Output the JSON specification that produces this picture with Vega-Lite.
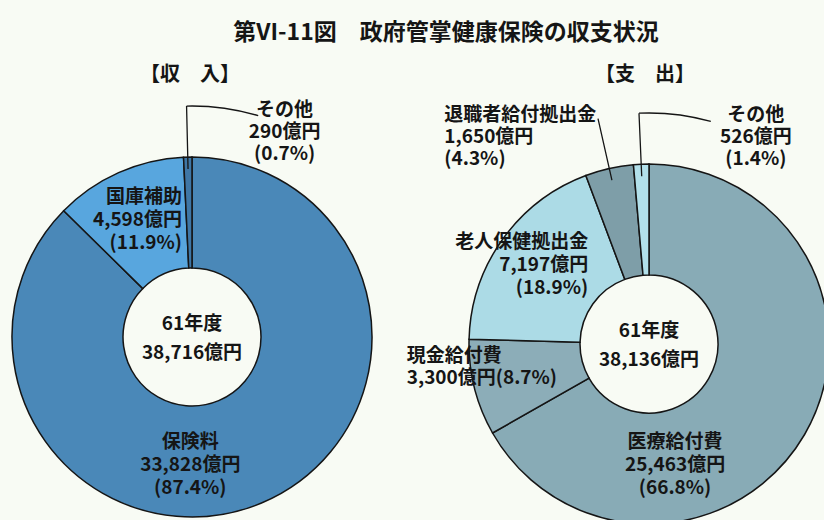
{
  "$schema": "https://vega.github.io/schema/vega-lite/v6.json",
  "width": 824,
  "height": 520,
  "autosize": "none",
  "padding": 0,
  "background": "#f8fbf4",
  "title": {"text": "第VI-11図　政府管掌健康保険の収支状況", "font": "Noto Sans CJK JP", "fontSize": 23, "fontWeight": "bold", "color": "#151515", "anchor": "middle", "dx": 34, "offset": -45},
  "config": {"view": {"stroke": null}, "text": {"font": "Noto Sans CJK JP", "color": "#151515"}},
  "data": {"values": [
    {"k": 1, "side": "収入", "item": "保険料", "value": 33828, "pct": "87.4"},
    {"k": 2, "side": "収入", "item": "国庫補助", "value": 4598, "pct": "11.9"},
    {"k": 3, "side": "収入", "item": "その他", "value": 290, "pct": "0.7"},
    {"k": 4, "side": "支出", "item": "医療給付費", "value": 25463, "pct": "66.8"},
    {"k": 5, "side": "支出", "item": "現金給付費", "value": 3300, "pct": "8.7"},
    {"k": 6, "side": "支出", "item": "老人保健拠出金", "value": 7197, "pct": "18.9"},
    {"k": 7, "side": "支出", "item": "退職者給付拠出金", "value": 1650, "pct": "4.3"},
    {"k": 8, "side": "支出", "item": "その他", "value": 526, "pct": "1.4"}
  ]},
  "transform": [
    {"stack": "value", "groupby": ["side"], "sort": [{"field": "k"}], "offset": "normalize", "as": ["t0", "t1"]},
    {"joinaggregate": [{"op": "sum", "field": "value", "as": "total"}], "groupby": ["side"]},
    {"calculate": "(datum.t0 + datum.t1) / 2", "as": "tm"},
    {"calculate": "datum.side + datum.item", "as": "key"},
    {"calculate": "[datum.item, format(datum.value, ',') + '億円', '(' + datum.pct + '%)']", "as": "lines"}
  ],
  "encoding": {
    "x": {"field": "side", "type": "nominal", "scale": {"domain": ["収入", "支出"], "range": [192, 649], "padding": 0}, "axis": null},
    "y": {"field": "side", "type": "nominal", "scale": {"domain": ["収入", "支出"], "range": [337, 344], "padding": 0}, "axis": null}
  },
  "layer": [
    {
      "mark": {"type": "arc", "outerRadius": 180, "innerRadius": 69, "stroke": "#151515", "strokeWidth": 1.5},
      "encoding": {
        "theta": {"field": "t0", "type": "quantitative", "scale": {"domain": [0, 1]}},
        "theta2": {"field": "t1"},
        "color": {"field": "key", "type": "nominal", "legend": null, "scale": {
          "domain": ["収入保険料", "収入国庫補助", "収入その他", "支出医療給付費", "支出現金給付費", "支出老人保健拠出金", "支出退職者給付拠出金", "支出その他"],
          "range": ["#4a88b8", "#58a6de", "#3f77a6", "#88abb6", "#8cadb8", "#acdbe6", "#7e9ea8", "#b2e0ea"]}}
      }
    },
    {
      "transform": [{"filter": "datum.k == 3 || datum.k == 7 || datum.k == 8"}],
      "mark": {"type": "arc", "outerRadius": 231, "innerRadius": 168, "stroke": "#151515", "strokeWidth": 1.3, "fillOpacity": 0},
      "encoding": {"theta": {"field": "tm", "type": "quantitative"}, "theta2": {"field": "tm"}}
    },
    {
      "transform": [{"filter": "datum.item == 'その他'"}, {"calculate": "datum.tm + 0.05", "as": "te"}],
      "mark": {"type": "arc", "outerRadius": 231, "innerRadius": 231, "stroke": "#151515", "strokeWidth": 1.3, "fillOpacity": 0},
      "encoding": {"theta": {"field": "tm", "type": "quantitative"}, "theta2": {"field": "te"}}
    },
    {
      "transform": [{"filter": "datum.k == 1 || datum.k == 4"}, {"calculate": "['61年度', format(datum.total, ',') + '億円']", "as": "center"}],
      "mark": {"type": "text", "fontSize": 19, "fontWeight": "bold", "lineHeight": 29, "baseline": "middle", "align": "center", "dy": -13},
      "encoding": {"text": {"field": "center"}}
    },
    {
      "transform": [{"filter": "datum.k == 1"}],
      "mark": {"type": "text", "text": "【収　入】", "fontSize": 20, "fontWeight": "bold", "baseline": "middle", "align": "center", "dx": -2, "dy": -262}
    },
    {
      "transform": [{"filter": "datum.k == 4"}],
      "mark": {"type": "text", "text": "【支　出】", "fontSize": 20, "fontWeight": "bold", "baseline": "middle", "align": "center", "dx": -4, "dy": -269}
    },
    {
      "transform": [{"filter": "datum.k == 1"}],
      "mark": {"type": "text", "fontSize": 19, "fontWeight": "bold", "lineHeight": 23, "baseline": "middle", "align": "center", "radius": 125, "dx": -50, "dy": -10},
      "encoding": {"theta": {"field": "tm", "type": "quantitative"}, "text": {"field": "lines"}}
    },
    {
      "transform": [{"filter": "datum.k == 2"}],
      "mark": {"type": "text", "fontSize": 19, "fontWeight": "bold", "lineHeight": 23, "baseline": "middle", "align": "right", "radius": 125, "dx": 41, "dy": -26},
      "encoding": {"theta": {"field": "tm", "type": "quantitative"}, "text": {"field": "lines"}}
    },
    {
      "transform": [{"filter": "datum.k == 3"}],
      "mark": {"type": "text", "fontSize": 19, "fontWeight": "bold", "lineHeight": 22, "baseline": "middle", "align": "center", "radius": 229, "dx": 98, "dy": 2},
      "encoding": {"theta": {"field": "tm", "type": "quantitative"}, "text": {"field": "lines"}}
    },
    {
      "transform": [{"filter": "datum.k == 4"}],
      "mark": {"type": "text", "fontSize": 19, "fontWeight": "bold", "lineHeight": 23, "baseline": "middle", "align": "center", "radius": 125, "dx": -82, "dy": 35},
      "encoding": {"theta": {"field": "tm", "type": "quantitative"}, "text": {"field": "lines"}}
    },
    {
      "transform": [{"filter": "datum.k == 5"}, {"calculate": "[datum.item, format(datum.value, ',') + '億円(' + datum.pct + '%)']", "as": "lines2"}],
      "mark": {"type": "text", "fontSize": 19, "fontWeight": "bold", "lineHeight": 22, "baseline": "middle", "align": "left", "radius": 125, "dx": -121, "dy": -18},
      "encoding": {"theta": {"field": "tm", "type": "quantitative"}, "text": {"field": "lines2"}}
    },
    {
      "transform": [{"filter": "datum.k == 6"}],
      "mark": {"type": "text", "fontSize": 19, "fontWeight": "bold", "lineHeight": 23, "baseline": "middle", "align": "right", "radius": 125, "dx": 41, "dy": -29},
      "encoding": {"theta": {"field": "tm", "type": "quantitative"}, "text": {"field": "lines"}}
    },
    {
      "transform": [{"filter": "datum.k == 7"}],
      "mark": {"type": "text", "fontSize": 19, "fontWeight": "bold", "lineHeight": 22, "baseline": "middle", "align": "left", "radius": 234, "dx": -153, "dy": -1},
      "encoding": {"theta": {"field": "tm", "type": "quantitative"}, "text": {"field": "lines"}}
    },
    {
      "transform": [{"filter": "datum.k == 8"}],
      "mark": {"type": "text", "fontSize": 19, "fontWeight": "bold", "lineHeight": 22, "baseline": "middle", "align": "center", "radius": 234, "dx": 117, "dy": 5},
      "encoding": {"theta": {"field": "tm", "type": "quantitative"}, "text": {"field": "lines"}}
    }
  ]
}
